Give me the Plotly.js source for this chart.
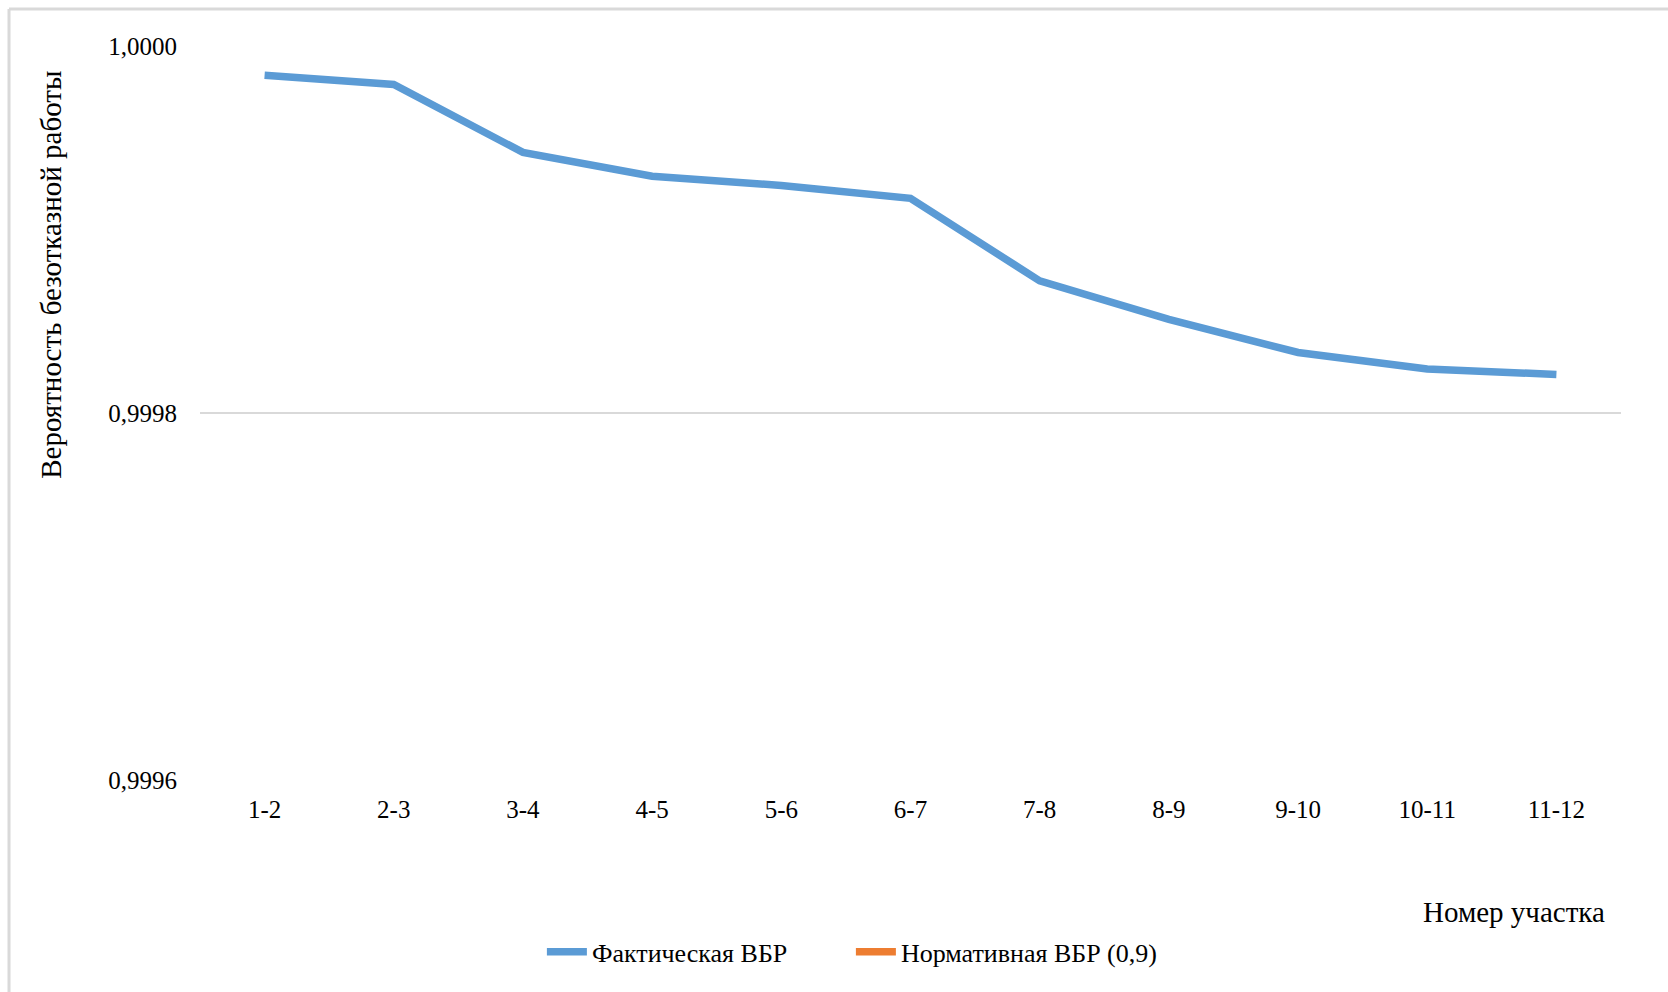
<!DOCTYPE html>
<html>
<head>
<meta charset="utf-8">
<script src="https://cdn.plot.ly/plotly-3.0.1.min.js"></script>
<style>
html,body{margin:0;padding:0;background:#fff;}
#chart{width:1668px;height:992px;}
</style>
</head>
<body>
<div id="chart"></div>
<script>
const categories = ["1-2","2-3","3-4","4-5","5-6","6-7","7-8","8-9","9-10","10-11","11-12"];
const actualValues = [0.999984,0.999979,0.999942,0.999929,0.999924,0.999917,0.999872,0.999851,0.999833,0.999824,0.999821];
const normativeValues = [0.9,0.9,0.9,0.9,0.9,0.9,0.9,0.9,0.9,0.9,0.9];
const yTickValues = [0.9996, 0.9998, 1.0000];
const yTickLabels = ["0,9996","0,9998","1,0000"];
const seriesNames = ["Фактическая ВБР","Нормативная ВБР (0,9)"];
const yTitle = "Вероятность безотказной работы";
const xTitle = "Номер участка";

const FONT = "Liberation Serif, Times New Roman, serif";

const traces = [
  {x: categories, y: actualValues, name: seriesNames[0], type: 'scatter', mode: 'lines',
   line: {color: '#5B9BD5', width: 7.5}, cliponaxis: true},
  {x: categories, y: normativeValues, name: seriesNames[1], type: 'scatter', mode: 'lines',
   line: {color: '#ED7D31', width: 7.5}, cliponaxis: true}
];

const layout = {
  width: 1668, height: 992,
  margin: {l: 200, r: 47, t: 46, b: 212},
  paper_bgcolor: '#fff', plot_bgcolor: '#fff',
  font: {family: FONT, size: 25, color: '#000'},
  showlegend: true,
  xaxis: {
    type: 'category', range: [-0.5, 10.5], showgrid: false, zeroline: false,
    showline: false, ticks: '', ticklabelstandoff: 12,
    tickfont: {family: FONT, size: 25, color: '#000'}
  },
  yaxis: {
    range: [0.9996, 1.0000], tickvals: yTickValues, ticktext: yTickLabels,
    showgrid: true, gridcolor: '#d9d9d9', gridwidth: 2, zeroline: false,
    showline: false, ticks: '', ticklabelstandoff: 22,
    tickfont: {family: FONT, size: 25, color: '#000'}
  },
  legend: {
    orientation: 'h', x: 0.2406, xanchor: 'left', y: -0.234, yanchor: 'middle',
    font: {family: FONT, size: 26, color: '#000'},
    entrywidth: 254, entrywidthmode: 'pixels', itemwidth: 40
  },
  annotations: [
    {text: yTitle, xref: 'paper', yref: 'paper', x: -0.105, y: 0.688,
     xanchor: 'center', yanchor: 'middle', textangle: -90, showarrow: false,
     font: {family: FONT, size: 29, color: '#000'}},
    {text: xTitle, xref: 'paper', yref: 'paper', x: 0.99, y: -0.18,
     xanchor: 'right', yanchor: 'middle', showarrow: false,
     font: {family: FONT, size: 29, color: '#000'}}
  ],
  shapes: [
    {type: 'line', xref: 'paper', yref: 'paper', x0: -0.1344, x1: 1.04, y0: 1.0504, y1: 1.0504,
     line: {color: '#d9d9d9', width: 3}},
    {type: 'line', xref: 'paper', yref: 'paper', x0: -0.1344, x1: -0.1344, y0: 1.0504, y1: -0.29,
     line: {color: '#d9d9d9', width: 3}}
  ]
};

Plotly.newPlot('chart', traces, layout, {displayModeBar: false, staticPlot: true});
</script>
</body>
</html>
